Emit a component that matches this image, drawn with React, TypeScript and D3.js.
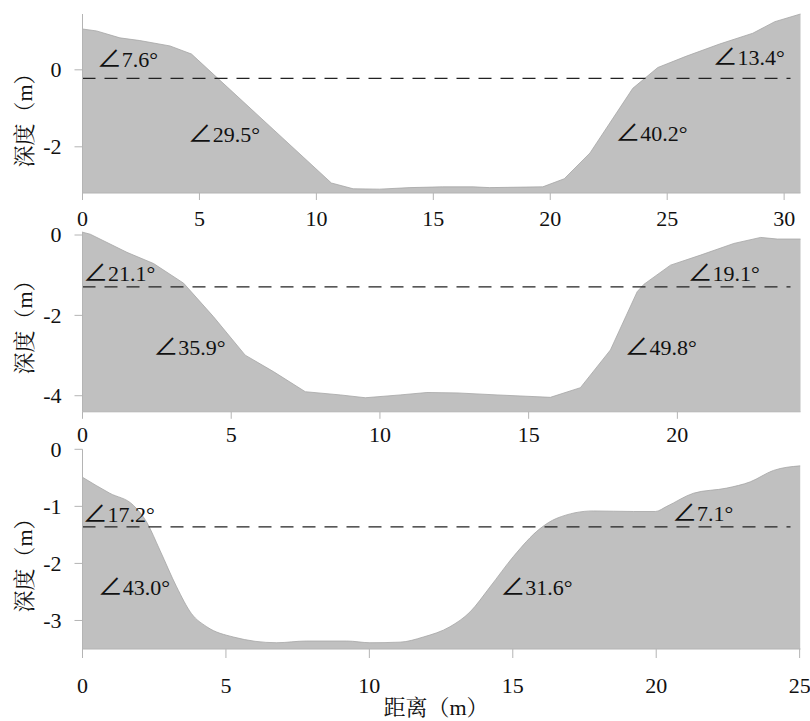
import * as d3 from 'd3';

// cross-section 1
const dist1 = [0, 0.6, 1.6, 2.45, 3.74, 4.66, 10.64, 11.57, 12.7, 14.0, 15.4, 16.7, 17.4, 19.68, 20.6, 21.7, 23.53, 24.6, 25.8, 27.24, 28.66, 29.6, 30.7];
const depth1 = [1.06, 1.01, 0.83, 0.76, 0.62, 0.41, -2.94, -3.09, -3.1, -3.06, -3.04, -3.04, -3.06, -3.04, -2.83, -2.16, -0.48, 0.06, 0.35, 0.67, 0.95, 1.25, 1.45];
const water1 = -0.22;
const xTicks1 = [0, 5, 10, 15, 20, 25, 30];
const yTicks1 = [-2, 0];
const angles1 = ['7.6°', '29.5°', '40.2°', '13.4°'];
const angleX1 = [0.61, 4.5, 22.78, 26.94];
const angleY1 = [0.26, -1.69, -1.66, 0.31];

// cross-section 2
const dist2 = [0, 0.26, 1.49, 2.39, 3.4, 4.4, 5.47, 6.42, 7.49, 8.67, 9.51, 10.68, 11.58, 12.59, 13.94, 15.73, 16.74, 17.75, 18.65, 18.87, 19.77, 20.78, 21.9, 22.8, 23.36, 24.14];
const depth2 = [0.07, 0.02, -0.43, -0.71, -1.2, -2.03, -2.99, -3.4, -3.9, -3.98, -4.05, -3.98, -3.92, -3.93, -3.98, -4.04, -3.8, -2.86, -1.41, -1.23, -0.75, -0.5, -0.21, -0.06, -0.1, -0.1];
const water2 = -1.29;
const xTicks2 = [0, 5, 10, 15, 20];
const yTicks2 = [-4, -2, 0];
const angles2 = ['21.1°', '35.9°', '49.8°', '19.1°'];
const angleX2 = [0.02, 2.38, 18.22, 20.34];
const angleY2 = [-0.95, -2.81, -2.81, -0.95];

// cross-section 3
const dist3 = [0, 0.95, 1.77, 2.23, 2.7, 3.28, 3.8, 4.33, 5.26, 6.77, 7.81, 9.21, 10.02, 11.07, 11.88, 12.81, 13.51, 14.21, 15.02, 15.95, 16.53, 17.81, 19.21, 19.97, 20.37, 21.3, 22.46, 23.28, 24.09, 25.02];
const depth3 = [-0.49, -0.77, -0.98, -1.27, -1.77, -2.41, -2.88, -3.11, -3.29, -3.39, -3.36, -3.36, -3.39, -3.38, -3.29, -3.11, -2.85, -2.41, -1.88, -1.39, -1.21, -1.08, -1.09, -1.09, -1.0, -0.77, -0.68, -0.57, -0.37, -0.29];
const water3 = -1.36;
const xTicks3 = [0, 5, 10, 15, 20, 25];
const yTicks3 = [-3, -2, -1, 0];
const angles3 = ['17.2°', '43.0°', '31.6°', '7.1°'];
const angleX3 = [0, 0.53, 14.56, 20.55];
const angleY3 = [-1.15, -2.42, -2.42, -1.13];

const WIDTH = 810;
const HEIGHT = 721;
const LATIN = 'Liberation Serif';
const TITLE_FONT = 'Liberation Serif, Noto Serif CJK SC, Noto Sans CJK SC';
const ANGLE_FONT = 'Noto Sans CJK SC';
const AXIS = '#b4b4b4';
const INK = '#111';

const left = 82.5;
const right = 800.5;

const panels = [
  { xs: dist1, ys: depth1, water: water1, xTicks: xTicks1, yTicks: yTicks1, labels: angles1, lx: angleX1, ly: angleY1,
    xDomain: [0, 30.7], yDomain: [-3.2, 1.45], top: 14, bottom: 193, tickLen: 7, labelOff: 32.5, titleY: 115, smooth: false },
  { xs: dist2, ys: depth2, water: water2, xTicks: xTicks2, yTicks: yTicks2, labels: angles2, lx: angleX2, ly: angleY2,
    xDomain: [0, 24.14], yDomain: [-4.4, 0.08], top: 231.8, bottom: 411.8, tickLen: 7, labelOff: 30.7, titleY: 322, smooth: false },
  { xs: dist3, ys: depth3, water: water3, xTicks: xTicks3, yTicks: yTicks3, labels: angles3, lx: angleX3, ly: angleY3,
    xDomain: [0, 25.03], yDomain: [-3.5, 0], top: 449.3, bottom: 649, tickLen: 9, labelOff: 43.5, titleY: 560, smooth: true },
];

const Panel = ({ p }) => {
  const x = d3.scaleLinear().domain(p.xDomain).range([left, right]);
  const y = d3.scaleLinear().domain(p.yDomain).range([p.bottom, p.top]);
  const pts = p.xs.map((d, i) => [d, p.ys[i]]);
  const curve = p.smooth ? d3.curveMonotoneX : d3.curveLinear;

  const area = d3.area()
    .x(d => x(d[0]))
    .y0(y(p.yDomain[0]))
    .y1(d => y(d[1]))
    .curve(curve);
  const line = d3.line()
    .x(d => x(d[0]))
    .y(d => y(d[1]))
    .curve(curve);

  return (
    <g>
      <path d={area(pts)} fill="#c0c0c0" />
      <path d={line(pts)} fill="none" stroke="#a6a6a6" strokeWidth={0.8} />

      {/* water level */}
      <line x1={x(0)} x2={right - 10} y1={y(p.water)} y2={y(p.water)}
        stroke="#222" strokeWidth={1.3} strokeDasharray="13,9" />

      {/* x axis */}
      <line x1={left} x2={right} y1={p.bottom} y2={p.bottom} stroke={AXIS} />
      {p.xTicks.map(t => (
        <g key={t} transform={`translate(${x(t)},${p.bottom})`}>
          <line y2={p.tickLen} stroke={AXIS} />
          <text y={p.labelOff} textAnchor="middle" fontFamily={LATIN} fontSize={22} fill={INK}>{t}</text>
        </g>
      ))}

      {/* y axis */}
      <line x1={left} x2={left} y1={p.top} y2={p.bottom} stroke={AXIS} />
      {p.yTicks.map(t => (
        <g key={t} transform={`translate(${left},${y(t)})`}>
          <line x2={-8} stroke={AXIS} />
          <text x={-21} dy="0.34em" textAnchor="end" fontFamily={LATIN} fontSize={22} fill={INK}>{t}</text>
        </g>
      ))}

      {/* slope angles */}
      {p.labels.map((d, i) => (
        <text key={d} x={x(p.lx[i])} y={y(p.ly[i])} dy="0.34em" fontFamily={LATIN} fontSize={22} fill={INK}>
          <tspan fontFamily={ANGLE_FONT} fontSize={25}>∠</tspan>{d}
        </text>
      ))}

      <text transform={`translate(24,${p.titleY}) rotate(-90)`} textAnchor="middle" dominantBaseline="central"
        fontFamily={TITLE_FONT} fontSize={22} fill={INK}>深度（m）</text>
    </g>
  );
};

const App = () => (
  <svg width={WIDTH} height={HEIGHT} style={{ position: 'absolute', left: 0, top: 0, background: '#fff' }}>
    {panels.map((p, i) => <Panel key={i} p={p} />)}
    <text x={436} y={707} textAnchor="middle" dominantBaseline="central"
      fontFamily={TITLE_FONT} fontSize={22} fill={INK}>距离（m）</text>
  </svg>
);

export default App;
